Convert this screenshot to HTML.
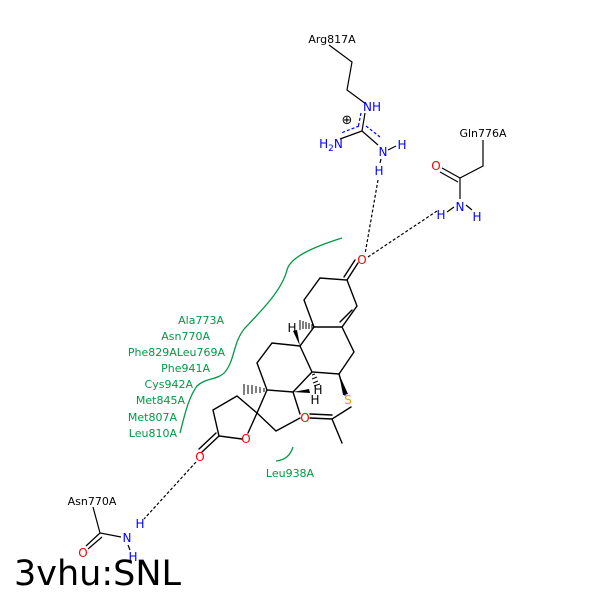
<!DOCTYPE html>
<html><head><meta charset="utf-8"><style>body{margin:0;background:#fff}svg{display:block}</style></head><body>
<svg width="600" height="600" viewBox="0 0 600 600" xmlns="http://www.w3.org/2000/svg" font-family="'DejaVu Sans','Liberation Sans',sans-serif">
<g stroke="#000" stroke-width="1.4" fill="none" stroke-linecap="round">
<path d="M304,300 L320,278 L347,280 L357,306 L342,327 L314,327 Z"/>
<path d="M352,310 L340,322"/>
<path d="M347,280 L358,263 M344,277 L355,260"/>
<path d="M342,327 L354,352 L339,374 L312,372 L300,346 L314,327"/>
<path d="M300,346 L272,343 L257,363 L267,390 L293,392 L312,372"/>
<path d="M267,390 L257,413 L276,431 L300,418 M293,392 L300,414"/>
<path d="M257,413 L237,396 L213,410 L219,436 L242,439 M257,413 L248,433"/>
<path d="M219,436 L202,452 M216,433 L199,449"/>
<path d="M339,374 L345,395 M351,407 L332,419 L342,443 M332,419 L310,418 M332,415 L310,414"/>
</g>
<polygon points="339,374 343,395 348,394" fill="#000"/>
<polygon points="300,346 293,331 297,330" fill="#000"/>
<polygon points="293,392 310,393 309,389" fill="#000"/>
<g stroke="#000" stroke-width="1">
<path d="M312,324 L312,329 M309,323 L309,329 M306,322 L306,329 M303,321 L303,329 M300,320 L300,330"/>
<path d="M264,388 L264,392 M260,387 L260,393 M256,386 L256,393 M252,385 L252,394 M248,385 L248,394 M244,384 L244,395"/>
<path d="M312,375 L315,374 M312,379 L317,377 M313,383 L318,381 M314,386 L320,384"/>
</g>
<g font-size="12">
<text x="292" y="332" text-anchor="middle">H</text>
<text x="318" y="394" text-anchor="middle">H</text>
<text x="315" y="404" text-anchor="middle">H</text>
<text x="348" y="404" text-anchor="middle" fill="#f0a000">S</text>
<text x="305" y="422" text-anchor="middle" fill="#f00">O</text>
<text x="246" y="443" text-anchor="middle" fill="#f00">O</text>
<text x="200" y="461" text-anchor="middle" fill="#f00">O</text>
<text x="362" y="264" text-anchor="middle" fill="#f00">O</text>
</g>
<g stroke="#000" stroke-width="1.2" fill="none">
<path d="M329,45 L352,62 L347,90 L366,104"/>
<path d="M365,113 L362,131 L340,139 M362,131 L378,145"/>
</g>
<g stroke="#00f" stroke-width="1.2" stroke-dasharray="3,2" fill="none">
<path d="M361,113 L358,128 M359,126 L341,133 M366,126 L380,137"/>
</g>
<g font-size="11">
<text x="332" y="43" text-anchor="middle">Arg817A</text>
<text x="483" y="137" text-anchor="middle">Gln776A</text>
<text x="92" y="505" text-anchor="middle">Asn770A</text>
</g>
<g font-size="12" fill="#00f">
<text x="372" y="111" text-anchor="middle">NH</text>
<text x="331" y="148" text-anchor="middle">H<tspan font-size="9" dy="3">2</tspan><tspan dy="-3">N</tspan></text>
<text x="383" y="156" text-anchor="middle">N</text>
<text x="402" y="149" text-anchor="middle">H</text>
<text x="379" y="175" text-anchor="middle">H</text>
<text x="460" y="211" text-anchor="middle">N</text>
<text x="441" y="219" text-anchor="middle">H</text>
<text x="477" y="221" text-anchor="middle">H</text>
<text x="127" y="542" text-anchor="middle">N</text>
<text x="140" y="528" text-anchor="middle">H</text>
<text x="133" y="561" text-anchor="middle">H</text>
</g>
<text x="347" y="124" font-size="13" text-anchor="middle">⊕</text>
<g stroke="#000" stroke-width="1.2" fill="none">
<path d="M388,150 L396,146 M381,159 L380,163"/>
<path d="M483,140 L483,166 L460,178 L460,199 M466,205 L472,210 M454,207 L447,212"/>
<path d="M460,178 L442,168 M458,182 L440,172"/>
<path d="M93,507 L100,533 L121,537 M128,545 L130,550 M100,533 L86,546 M102,537 L88,549"/>
</g>
<text x="436" y="170" font-size="12" fill="#f00" text-anchor="middle">O</text>
<text x="83" y="557" font-size="12" fill="#f00" text-anchor="middle">O</text>
<g stroke="#000" stroke-width="1.2" stroke-dasharray="3,2" fill="none">
<path d="M378,180 L365,254"/>
<path d="M437,211 L368,257"/>
<path d="M196,462 L144,519"/>
</g>
<g stroke="#009944" stroke-width="1.3" fill="none">
<path d="M342,238 C310,248 290,258 287,270 C282,290 262,310 245,328 C233,342 235,360 225,372 C218,380 205,378 197,386 C188,398 184,418 180,433"/>
<path d="M293,447 C290,456 285,460 276,461"/>
</g>
<g font-size="11" fill="#009944" text-anchor="end">
<text x="224" y="324">Ala773A</text>
<text x="210" y="340">Asn770A</text>
<text x="225" y="356">Phe829ALeu769A</text>
<text x="210" y="372">Phe941A</text>
<text x="193" y="388">Cys942A</text>
<text x="185" y="404">Met845A</text>
<text x="177" y="421">Met807A</text>
<text x="177" y="437">Leu810A</text>
<text x="290" y="477" text-anchor="middle">Leu938A</text>
</g>
<text x="14" y="585" font-size="35" font-family="'DejaVu Sans',sans-serif">3vhu:SNL</text>
</svg>
</body></html>
